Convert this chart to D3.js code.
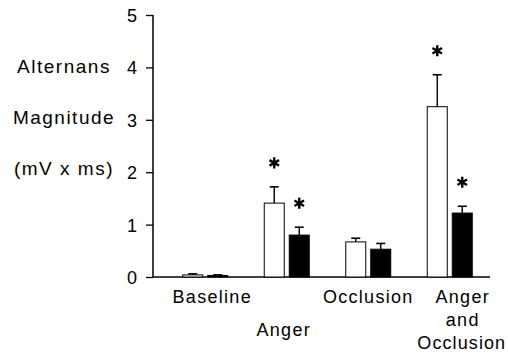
<!DOCTYPE html>
<html>
<head>
<meta charset="utf-8">
<script src="https://cdn.jsdelivr.net/npm/d3@7"></script>
<style>
  body { margin: 0; background: #fff; }
  text { font-family: "Liberation Sans", Arial, sans-serif; fill: #000; }
</style>
</head>
<body>
<div id="chart"></div>
<script>
// data
var groups = ["Baseline", "Anger", "Occlusion", "Anger and Occlusion"];
var openValues = [0.04, 1.41, 0.67, 3.25];
var openErrors = [0.02, 0.31, 0.07, 0.61];
var filledValues = [0.03, 0.80, 0.53, 1.22];
var filledErrors = [0.01, 0.15, 0.11, 0.13];
var openStar = [false, true, false, true];
var filledStar = [false, true, false, true];
var yTicks = [0, 1, 2, 3, 4, 5];
var yLabelLines = ["Alternans", "Magnitude", "(mV x ms)"];
var groupLabelLines = [["Baseline"], ["Anger"], ["Occlusion"], ["Anger", "and", "Occlusion"]];

var width = 508, height = 355;

var svg = d3.select("#chart")
    .append("svg")
    .attr("width", width)
    .attr("height", height);

var x = d3.scaleBand()
    .domain(groups)
    .range([164.5, 490.5])
    .padding(0);

var y = d3.scaleLinear()
    .domain([0, 5])
    .range([277, 15]);

var barW = 21, gap = 4;

// axes
var yAxis = svg.append("g")
    .attr("transform", "translate(153,0)")
    .call(d3.axisLeft(y).tickValues(yTicks).tickSize(7).tickPadding(9).tickFormat(d3.format("d")));
yAxis.select(".domain").attr("stroke-width", 1.5).attr("d", "M0," + y(5) + "V" + y(0));
yAxis.selectAll(".tick line").attr("stroke-width", 1.3);
yAxis.selectAll(".tick text")
    .style("font-family", "'Liberation Sans', Arial, sans-serif")
    .style("font-size", "18px")
    .attr("dy", "0.36em");

svg.append("line")
    .attr("x1", 153).attr("x2", 490)
    .attr("y1", y(0)).attr("y2", y(0))
    .attr("stroke", "#000").attr("stroke-width", 1.5);

// bars
function drawSeries(values, errors, stars, offset, fill) {
    var g = svg.append("g");
    groups.forEach(function (grp, i) {
        var cx = x(grp) + x.bandwidth() / 2 + offset;
        var x0 = cx - barW / 2;
        var top = y(values[i]);
        var errTop = y(values[i] + errors[i]);
        g.append("line")
            .attr("x1", cx).attr("x2", cx)
            .attr("y1", top).attr("y2", errTop)
            .attr("stroke", "#000").attr("stroke-width", 1.4);
        g.append("line")
            .attr("x1", cx - 4.5).attr("x2", cx + 4.5)
            .attr("y1", errTop).attr("y2", errTop)
            .attr("stroke", "#000").attr("stroke-width", 1.6);
        g.append("rect")
            .attr("x", x0 + 0.5)
            .attr("y", top)
            .attr("width", barW - 1)
            .attr("height", y(0) - top)
            .attr("fill", fill)
            .attr("stroke", "#000")
            .attr("stroke-width", 1);
        if (stars[i]) {
            g.append("path")
                .attr("d", d3.symbol(d3.symbolAsterisk, 86)())
                .attr("transform", "translate(" + cx + "," + (errTop - 24) + ")")
                .attr("fill", "none")
                .attr("stroke", "#000")
                .attr("stroke-width", 2.4);
        }
    });
}
drawSeries(openValues, openErrors, openStar, -(barW + gap) / 2, "#fff");
drawSeries(filledValues, filledErrors, filledStar, (barW + gap) / 2, "#000");

// group labels
var labelPos = [
    { dx: 7, y: 303 },
    { dx: -3, y: 336 },
    { dx: 0, y: 303 },
    { dx: 13, y: 303 }
];
groupLabelLines.forEach(function (lines, i) {
    var cx = x(groups[i]) + x.bandwidth() / 2 + labelPos[i].dx;
    lines.forEach(function (line, j) {
        svg.append("text")
            .attr("x", cx + (j === 2 ? -1 : 0))
            .attr("y", labelPos[i].y + j * 23)
            .attr("text-anchor", "middle")
            .style("font-size", "18px")
            .style("letter-spacing", j === 2 ? "1.1px" : "1.3px")
            .text(line);
    });
});

// y label
yLabelLines.forEach(function (line, i) {
    svg.append("text")
        .attr("x", 64)
        .attr("y", 73 + i * 51)
        .attr("text-anchor", "middle")
        .style("font-size", "19px")
        .style("letter-spacing", "1.5px")
        .text(line);
});
</script>
</body>
</html>
